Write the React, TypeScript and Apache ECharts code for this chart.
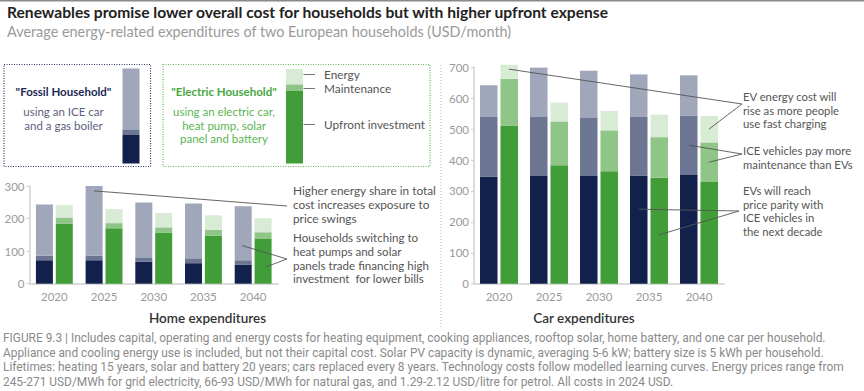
import React, { useEffect, useRef } from "react";
import * as echarts from "echarts";

const years = ["2020", "2025", "2030", "2035", "2040"];

// Home expenditures (USD/month)
const homeFossilUpfront = [72, 72, 67, 63, 59];
const homeFossilMaint = [14, 14, 14, 15, 13];
const homeFossilEnergy = [157, 214, 168, 168, 166];
const homeElecUpfront = [185, 170, 156, 147, 139];
const homeElecMaint = [18, 16, 17, 18, 19];
const homeElecEnergy = [38, 43, 44, 45, 43];

// Car expenditures (USD/month)
const carFossilUpfront = [347, 348, 348, 350, 352];
const carFossilMaint = [192, 191, 188, 189, 192];
const carFossilEnergy = [103, 160, 153, 138, 130];
const carElecUpfront = [512, 383, 364, 343, 329];
const carElecMaint = [151, 142, 132, 131, 128];
const carElecEnergy = [45, 61, 63, 73, 86];

const homeTicks = { min: 0, max: 300, interval: 100 };
const carTicks = { min: 0, max: 700, interval: 100 };

const C = {
  navy: "#12214b",
  navyMid: "#6c7591",
  navyLight: "#a1a7bb",
  green: "#409d37",
  greenMid: "#8fc587",
  greenLight: "#d8ebd4",
};

const FONT = "Lato, 'Open Sans', sans-serif";

export default function App() {
  const ref = useRef<HTMLDivElement>(null);

  useEffect(() => {
    if (!ref.current) return;
    const chart = echarts.init(ref.current, undefined, { renderer: "svg" });

    const axisLabel = { color: "#9a9a9a", fontSize: 11.5, fontFamily: FONT };
    const xAxisBase = {
      type: "category" as const,
      data: years,
      axisLine: { lineStyle: { color: "#d0d0d0", width: 1.5 } },
      axisTick: { show: false },
      axisLabel: { ...axisLabel, margin: 7 },
    };
    const yAxisBase = {
      type: "value" as const,
      axisLine: { show: true, lineStyle: { color: "#d0d0d0", width: 1.5 } },
      axisTick: { show: true, length: 3, lineStyle: { color: "#d0d0d0" } },
      axisLabel: { ...axisLabel, margin: 5 },
      splitLine: { show: false },
    };

    const bar = (name: string, xi: number, stack: string, data: number[], color: string, width: number) => ({
      type: "bar" as const,
      name,
      xAxisIndex: xi,
      yAxisIndex: xi,
      stack,
      data,
      barWidth: width,
      barGap: "17%",
      clip: false,
      itemStyle: { color },
      emphasis: { disabled: true },
    });

    chart.setOption({
      animation: false,
      grid: [
        { left: 29.5, top: 186, width: 248.5, height: 97.7 },
        { left: 474, top: 67.3, width: 250, height: 216.4 },
      ],
      xAxis: [
        { ...xAxisBase, gridIndex: 0 },
        { ...xAxisBase, gridIndex: 1 },
      ],
      yAxis: [
        { ...yAxisBase, gridIndex: 0, ...homeTicks },
        { ...yAxisBase, gridIndex: 1, ...carTicks },
      ],
      series: [
        bar("Fossil upfront", 0, "hf", homeFossilUpfront, C.navy, 17),
        bar("Fossil maintenance", 0, "hf", homeFossilMaint, C.navyMid, 17),
        bar("Fossil energy", 0, "hf", homeFossilEnergy, C.navyLight, 17),
        bar("Electric upfront", 0, "he", homeElecUpfront, C.green, 17),
        bar("Electric maintenance", 0, "he", homeElecMaint, C.greenMid, 17),
        bar("Electric energy", 0, "he", homeElecEnergy, C.greenLight, 17),
        bar("Fossil upfront", 1, "cf", carFossilUpfront, C.navy, 17.5),
        bar("Fossil maintenance", 1, "cf", carFossilMaint, C.navyMid, 17.5),
        bar("Fossil energy", 1, "cf", carFossilEnergy, C.navyLight, 17.5),
        bar("Electric upfront", 1, "ce", carElecUpfront, C.green, 17.5),
        bar("Electric maintenance", 1, "ce", carElecMaint, C.greenMid, 17.5),
        bar("Electric energy", 1, "ce", carElecEnergy, C.greenLight, 17.5),
      ],
    });

    // annotation leader lines anchored to data: [grid, catIndex, xOffset, value]
    type P = [number, number, number, number];
    const leaders: { from: P[]; to: [number, number] }[] = [
      { from: [[0, 1, -10, 285]], to: [287, 206] },
      { from: [[0, 4, -11, 117], [0, 4, 13, 52]], to: [287, 259] },
      { from: [[1, 0, 10, 694], [1, 4, 10, 500]], to: [742, 104] },
      { from: [[1, 4, -10, 448], [1, 4, 10, 393]], to: [742, 154] },
      { from: [[1, 3, -10, 241], [1, 3, 10, 158]], to: [739, 211] },
    ];
    const lineEls: any[] = [];
    leaders.forEach((l) => {
      l.from.forEach((p) => {
        const px = chart.convertToPixel({ gridIndex: p[0] } as any, [p[1], p[3]]) as number[];
        lineEls.push({
          type: "line",
          shape: { x1: px[0] + p[2], y1: px[1], x2: l.to[0], y2: l.to[1] },
          style: { stroke: "#555", lineWidth: 0.9 },
          z: 10,
        });
      });
    });

    const txt = (x: number, y: number, text: string, o: any = {}) => ({
      type: "text",
      x,
      y,
      style: {
        text,
        fontFamily: FONT,
        fontSize: 11.6,
        fill: "#555",
        lineHeight: 14,
        verticalAlign: "top",
        ...o,
      },
    });

    const footer =
      "FIGURE 9.3 | Includes capital, operating and energy costs for heating equipment, cooking appliances, rooftop solar, home battery, and one car per household.\n" +
      "Appliance and cooling energy use is included, but not their capital cost. Solar PV capacity is dynamic, averaging 5-6 kW; battery size is 5 kWh per household.\n" +
      "Lifetimes: heating 15 years, solar and battery 20 years; cars replaced every 8 years. Technology costs follow modelled learning curves. Energy prices range from\n" +
      "245-271 USD/MWh for grid electricity, 66-93 USD/MWh for natural gas, and 1.29-2.12 USD/litre for petrol. All costs in 2024 USD.";

    const graphic: any[] = [
      { type: "rect", shape: { x: 0, y: 0, width: 864, height: 1.5 }, style: { fill: "#8a8a8a" } },
      txt(7, 5, "Renewables promise lower overall cost for households but with higher upfront expense", {
        fontSize: 15.6, fontWeight: "bold", fill: "#222",
      }),
      txt(7, 24, "Average energy-related expenditures of two European households (USD/month)", {
        fontSize: 14.4, fill: "#9a9a9a",
      }),
      // legend boxes
      {
        type: "rect",
        shape: { x: 4, y: 64.5, width: 146.5, height: 102 },
        style: { fill: "none", stroke: "#2a3766", lineWidth: 1.2, lineDash: [1, 1.5] },
      },
      {
        type: "rect",
        shape: { x: 163, y: 64.5, width: 267, height: 102 },
        style: { fill: "none", stroke: "#5fba55", lineWidth: 1.2, lineDash: [1, 1.5] },
      },
      // fossil mini bar
      { type: "rect", shape: { x: 122.5, y: 68.5, width: 17, height: 61 }, style: { fill: C.navyLight } },
      { type: "rect", shape: { x: 122.5, y: 129.5, width: 17, height: 5.5 }, style: { fill: C.navyMid } },
      { type: "rect", shape: { x: 122.5, y: 135, width: 17, height: 28.5 }, style: { fill: C.navy } },
      // electric mini bar
      { type: "rect", shape: { x: 286, y: 69, width: 17, height: 15.5 }, style: { fill: C.greenLight } },
      { type: "rect", shape: { x: 286, y: 84.5, width: 17, height: 6.5 }, style: { fill: C.greenMid } },
      { type: "rect", shape: { x: 286, y: 91, width: 17, height: 72.5 }, style: { fill: C.green } },
      { type: "line", shape: { x1: 303.5, y1: 74.5, x2: 315, y2: 74.5 }, style: { stroke: "#777", lineWidth: 1 } },
      { type: "line", shape: { x1: 303.5, y1: 88.5, x2: 315, y2: 88.5 }, style: { stroke: "#777", lineWidth: 1 } },
      { type: "line", shape: { x1: 303.5, y1: 124.5, x2: 315, y2: 124.5 }, style: { stroke: "#777", lineWidth: 1 } },
      txt(324, 74.5, "Energy", { verticalAlign: "middle", fill: "#555", fontSize: 11.8 }),
      txt(324, 88.5, "Maintenance", { verticalAlign: "middle", fill: "#555", fontSize: 11.8 }),
      txt(324, 124.5, "Upfront investment", { verticalAlign: "middle", fill: "#555", fontSize: 11.8 }),
      txt(63.5, 84, '"Fossil Household"', { align: "center", fontWeight: "bold", fill: "#1d2a55", fontSize: 11.5 }),
      txt(63.5, 105, "using an ICE car\nand a gas boiler", { align: "center", fill: "#5a6180", lineHeight: 13.5, fontSize: 11.5 }),
      txt(224, 84, '"Electric Household"', { align: "center", fontWeight: "bold", fill: "#46a83d", fontSize: 11.5 }),
      txt(224, 105, "using an electric car,\nheat pump, solar\npanel and battery", {
        align: "center", fill: "#5cb553", lineHeight: 13.4, fontSize: 11.5,
      }),
      // separator
      {
        type: "line",
        shape: { x1: 441, y1: 65, x2: 441, y2: 328 },
        style: { stroke: "#b5b5b5", lineWidth: 1, lineDash: [1, 2] },
      },
      // annotations
      txt(293, 183, "Higher energy share in total\ncost increases exposure to\nprice swings", { fontSize: 11.8 }),
      txt(293, 231, "Households switching to\nheat pumps and solar\npanels trade financing high\ninvestment  for lower bills", { lineHeight: 13.6 }),
      txt(743, 90, "EV energy cost will\nrise as more people\nuse fast charging", { fontSize: 11.3, lineHeight: 13.5 }),
      txt(743, 144, "ICE vehicles pay more\nmaintenance than EVs", { fontSize: 11.3, lineHeight: 13.5 }),
      txt(743, 184, "EVs will reach\nprice parity with\nICE vehicles in\nthe next decade", { fontSize: 11.3, lineHeight: 13.5 }),
      // panel titles
      txt(207.5, 318, "Home expenditures", {
        align: "center", verticalAlign: "middle", fontSize: 13.5, fontWeight: 600, fill: "#333",
      }),
      txt(584, 318, "Car expenditures", {
        align: "center", verticalAlign: "middle", fontSize: 13.5, fontWeight: 600, fill: "#333",
      }),
      txt(3, 331, footer, {
        fontFamily: "Roboto, sans-serif",
        fontSize: 11.9,
        fill: "#8a8a8a",
        lineHeight: 14.5,
      }),
      ...lineEls,
    ];

    chart.setOption({ graphic });

    return () => chart.dispose();
  }, []);

  return (
    <div
      ref={ref}
      style={{ position: "absolute", left: 0, top: 0, width: 864, height: 391, background: "#fff" }}
    />
  );
}
